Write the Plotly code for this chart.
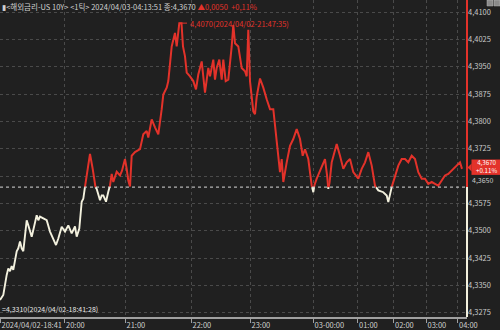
import plotly.graph_objects as go

# ---- data (tick index along the 1-tick chart, yield values) ----
tick_index = [0, 3.3, 6.7, 8.3, 10, 11.7, 13.3, 15, 16.7, 18.3, 20, 21.7, 23.3, 25, 26.7, 28.3,
              31.7, 33.3, 36.7, 38.3, 40, 43.3, 46.7, 50, 53.3, 56, 58.3, 61.7, 65, 68.3, 71.7,
              75, 76.7, 79.3, 81.7, 83.3, 85, 86.7, 88.3, 90, 92.7, 95, 96.7, 100, 101.7, 103.3,
              106, 108.3, 110, 111.7, 113.3, 116.7, 120, 122, 125, 126.7, 128.3, 130, 131.7, 135,
              140, 143.3, 146.7, 148.3, 151.7, 155, 158.3, 161.7, 163.3, 166.7, 168.3, 171.7, 175,
              176.7, 179.3, 181.5, 183, 185, 186.7, 190, 193.3, 196, 198.3, 201.7, 205, 208.3, 210,
              213.3, 215, 216.7, 219.3, 221.7, 223.3, 225.7, 228.3, 231.7, 233.3, 235, 238.3, 241.7,
              245, 246.7, 248.3, 250, 253.3, 255, 256.7, 260, 263.3, 266.7, 270, 273.3, 276.7, 280,
              281.7, 283.3, 286.7, 290, 293.3, 296.7, 300, 302.7, 305, 308.3, 311.7, 313.3, 314.5,
              316.7, 321.7, 325, 327.3, 328.3, 329.5, 331.7, 336.7, 340, 343.3, 346.7, 350, 353.3,
              358.3, 361.7, 365, 368.3, 371.7, 375, 378.3, 383.3, 386.7, 388.3, 391.7, 395, 398.3,
              401.7, 405, 408.3, 411.7, 415, 418.3, 421.7, 425, 428.3, 431.7, 435, 438.3, 441.7,
              445, 448.3, 453.3, 456.7, 460, 462]
yield_values = [4.3310, 4.3324, 4.3379, 4.3397, 4.3389, 4.3403, 4.3393, 4.3416, 4.3444, 4.3452,
                4.3471, 4.3452, 4.3444, 4.3487, 4.3529, 4.3515, 4.3484, 4.3502, 4.3543, 4.3529,
                4.3539, 4.3534, 4.3529, 4.3498, 4.3479, 4.3461, 4.3479, 4.3511, 4.3498, 4.3515,
                4.3493, 4.3512, 4.3484, 4.3506, 4.3580, 4.3588, 4.3621, 4.3652, 4.3689, 4.3711,
                4.3670, 4.3622, 4.3615, 4.3584, 4.3597, 4.3597, 4.3580, 4.3607, 4.3624, 4.3656,
                4.3634, 4.3662, 4.3652, 4.3665, 4.3697, 4.3670, 4.3638, 4.3622, 4.3706, 4.3716,
                4.3724, 4.3765, 4.3774, 4.3756, 4.3806, 4.3784, 4.3765, 4.3834, 4.3874, 4.3893,
                4.3911, 4.4006, 4.4043, 4.4006, 4.4070, 4.4070, 4.4006, 4.3979, 4.3934, 4.3924,
                4.3911, 4.3888, 4.3929, 4.3965, 4.3879, 4.3947, 4.3924, 4.3970, 4.3915, 4.3947,
                4.3970, 4.3915, 4.3970, 4.3911, 4.3915, 4.4006, 4.4065, 4.4015, 4.4006, 4.3947,
                4.3938, 4.3924, 4.4052, 4.3911, 4.3828, 4.3820, 4.3868, 4.3918, 4.3893, 4.3861,
                4.3834, 4.3834, 4.3743, 4.3661, 4.3697, 4.3634, 4.3688, 4.3733, 4.3752, 4.3779,
                4.3752, 4.3706, 4.3724, 4.3697, 4.3624, 4.3606, 4.3626, 4.3643, 4.3679, 4.3697,
                4.3647, 4.3615, 4.3632, 4.3688, 4.3738, 4.3706, 4.3670, 4.3688, 4.3697, 4.3661,
                4.3643, 4.3670, 4.3688, 4.3716, 4.3679, 4.3624, 4.3611, 4.3606, 4.3597, 4.3579,
                4.3620, 4.3652, 4.3679, 4.3697, 4.3697, 4.3688, 4.3706, 4.3697, 4.3661, 4.3643,
                4.3643, 4.3629, 4.3634, 4.3629, 4.3624, 4.3638, 4.3652, 4.3656, 4.3670, 4.3679,
                4.3688, 4.3670]
prev_close = 4.3620
last_value = 4.3670
high_value = 4.4070
high_index = 179.3
low_value = 4.3310

x_tick_pos = [0, 64.5, 125, 191, 250, 313, 357.5, 393.5, 426, 457.5]
x_tick_text = ["2024/04/02-18:41", "20:00", "21:00", "22:00", "23:00", "03-00:00",
               "01:00", "02:00", "03:00", "04:00"]
y_tick_vals = [round(4.3275 + 0.0075 * i, 4) for i in range(12)]
hidden_tick = 4.3650  # label partly covered by the current-price box
y_tick_text = ["" if v == hidden_tick else f"{v:.4f}".replace(".", ",") for v in y_tick_vals]

RED = "#e3322a"
WHITE = "#f3f1de"
BG = "#202020"
FONT = "Noto Sans CJK KR, DejaVu Sans, sans-serif"


def split_by_base(xs, vs, base):
    tr = {True: ([], []), False: ([], [])}
    prev_side = None
    for i, (x, v) in enumerate(zip(xs, vs)):
        side = v >= base
        if prev_side is not None and side != prev_side:
            x0, v0 = xs[i - 1], vs[i - 1]
            xc = x0 + (base - v0) / (v - v0) * (x - x0)
            ox, oy = tr[prev_side]
            ox += [xc, None]
            oy += [base, None]
            nx, ny = tr[side]
            nx.append(xc)
            ny.append(base)
        tx, ty = tr[side]
        tx.append(x)
        ty.append(v)
        prev_side = side
    return tr[True], tr[False]


(red_x, red_y), (white_x, white_y) = split_by_base(tick_index, yield_values, prev_close)

fig = go.Figure()
fig.add_trace(go.Scatter(x=white_x, y=white_y, mode="lines",
                         line=dict(color=WHITE, width=1.9), connectgaps=False,
                         hoverinfo="skip"))
fig.add_trace(go.Scatter(x=red_x, y=red_y, mode="lines",
                         line=dict(color=RED, width=2), connectgaps=False,
                         hoverinfo="skip"))

y_bottom = 4.32635
y_top = 4.41335
PW, PH = 467.0, 319.0  # plot area size in px


def px(xp):
    return xp / PW


def py(yp):
    return (PH - yp) / PH


fig.update_layout(
    width=500, height=330,
    margin=dict(l=0, r=33, t=0, b=11),
    paper_bgcolor=BG, plot_bgcolor=BG,
    showlegend=False,
    font=dict(family=FONT, size=8, color="#c8c8c8"),
    xaxis=dict(range=[0, 467], tickvals=x_tick_pos, ticktext=x_tick_text,
               showgrid=True, gridcolor="#4a4a4a", griddash="dot", gridwidth=1,
               zeroline=False, showline=True, linecolor="#a0a0a0", linewidth=2,
               ticks="outside", ticklen=4, tickcolor="#a0a0a0",
               ticklabelposition="outside right",
               tickfont=dict(size=7.5, color="#cfcfcf", family=FONT),
               fixedrange=True),
    yaxis=dict(range=[y_bottom, y_top], side="right", tickvals=y_tick_vals,
               ticktext=y_tick_text, showgrid=True, gridcolor="#4a4a4a",
               griddash="dot", gridwidth=1, zeroline=False, showline=False,
               ticks="", tickfont=dict(size=7.5, color="#c8c8c8", family=FONT),
               fixedrange=True),
)

# previous close dotted line
fig.add_shape(type="line", xref="x", yref="y", x0=0, x1=467, y0=prev_close, y1=prev_close,
              line=dict(color="#d8d8d8", width=1, dash="dot"))
# right border coloured by side of previous close
fig.add_shape(type="line", xref="paper", yref="y", x0=1, x1=1, y0=prev_close, y1=y_top,
              line=dict(color=RED, width=2))
fig.add_shape(type="line", xref="paper", yref="y", x0=1, x1=1, y0=y_bottom, y1=prev_close,
              line=dict(color=WHITE, width=2))

# high marker connector
fig.add_shape(type="line", xref="x", yref="y", x0=high_index, x1=187,
              y0=high_value, y1=high_value, line=dict(color=RED, width=1))
fig.add_annotation(x=187.5, y=high_value, xref="x", yref="y", xanchor="left", yanchor="middle",
                   text=f"{high_value:.4f}".replace(".", ",") + "(2024/04/02-21:47:35)",
                   showarrow=False, font=dict(size=7.5, color=RED, family=FONT))
# low marker
fig.add_annotation(x=0, y=low_value, xref="x", yref="y", xanchor="left", yanchor="top",
                   yshift=-2,
                   text="=" + f"{low_value:.4f}".replace(".", ",") + "(2024/04/02-18:41:28)",
                   showarrow=False, font=dict(size=7, color="#e8e8e8", family=FONT))

# partly covered 4,3650 label, just below the price box
fig.add_annotation(xref="paper", yref="paper", x=px(471), y=py(181), xanchor="left",
                   yanchor="middle", text=f"{hidden_tick:.4f}".replace(".", ","),
                   showarrow=False, borderpad=0,
                   font=dict(size=7, color="#c8c8c8", family=FONT))

# current price box with arrow
fig.add_shape(type="rect", xref="paper", yref="paper",
              x0=px(471.5), x1=px(500), y0=py(176), y1=py(160.5),
              fillcolor=RED, line=dict(width=0), layer="above")
fig.add_shape(type="path", xref="paper", yref="paper",
              path=f"M {px(467.5)} {py(168.5)} L {px(471.6)} {py(164.5)} "
                   f"L {px(471.6)} {py(172.5)} Z",
              fillcolor=RED, line=dict(width=0), layer="above")
fig.add_annotation(xref="paper", yref="paper", x=px(486), y=py(168), xanchor="center",
                   yanchor="middle",
                   text=f"{last_value:.4f}".replace(".", ",") + "<br>+0.11%",
                   showarrow=False, borderpad=0, align="center",
                   font=dict(size=6.2, color="#ffffff", family=FONT))

# header
pct = (last_value - prev_close) / prev_close * 100
header = ("▮<해외금리-US 10Y> <1틱> 2024/04/03-04:13:51 종:"
          + f"{last_value:.4f}".replace(".", ",")
          + f" <span style='color:{RED}'>▲{last_value - prev_close:.4f}".replace(".", ",")
          + f"  +{pct:.2f}%".replace(".", ",") + "</span>")
fig.add_annotation(xref="paper", yref="paper", x=0, y=1, xanchor="left", yanchor="top",
                   yshift=1, text=header, showarrow=False,
                   font=dict(size=7.5, color="#d0d0d0", family=FONT))

# small icons at top-right
for x0 in (487, 494):
    fig.add_shape(type="rect", xref="paper", yref="paper",
                  x0=px(x0), x1=px(x0 + 6), y0=py(0), y1=py(6),
                  fillcolor="#8a8a8a", line=dict(color="#bbbbbb", width=0.5))

fig.write_html("out.html")
